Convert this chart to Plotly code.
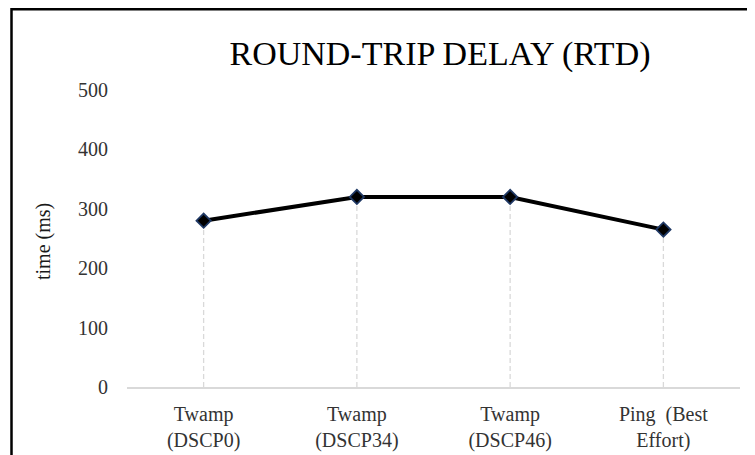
import plotly.graph_objects as go

categories = ["Twamp<br>(DSCP0)", "Twamp<br>(DSCP34)", "Twamp<br>(DSCP46)", "Ping  (Best<br>Effort)"]
rtd_ms = [280, 320, 320, 265]
y_ticks = [0, 100, 200, 300, 400, 500]

# the page body adds an 8px offset; layout values below compensate for it
W, H = 747, 447
L, R, T, B = 119, 15, 82, 68
pw, ph = W - L - R, H - T - B

fig = go.Figure()

# drop lines
for c, v in zip(categories, rtd_ms):
    fig.add_trace(go.Scatter(x=[c, c], y=[0, v], mode="lines",
                             line=dict(color="#d9d9d9", width=1.3, dash="5px,3px"),
                             hoverinfo="skip", showlegend=False))

fig.add_trace(go.Scatter(
    x=categories, y=rtd_ms, mode="lines+markers",
    line=dict(color="black", width=4),
    marker=dict(symbol="diamond", size=11, color="black",
                line=dict(color="#1f3864", width=1.8)),
    showlegend=False))

font = "Liberation Serif"
tick_col = "#333333"

fig.update_layout(
    width=W, height=H,
    margin=dict(l=L, r=R, t=T, b=B, autoexpand=False),
    paper_bgcolor="white", plot_bgcolor="white",
    font=dict(family=font, size=20, color=tick_col),
    title=dict(text="ROUND-TRIP DELAY (RTD)", x=432 / W, xanchor="center",
               y=1 - 45 / H, yanchor="middle",
               font=dict(family=font, size=34, color="black")),
    xaxis=dict(type="category", range=[-0.5, 3.5], showgrid=False, zeroline=False,
               showline=True, linecolor="#d9d9d9", linewidth=1.5, automargin=False,
               ticks="", ticklabelstandoff=8,
               tickfont=dict(family=font, size=20, color=tick_col)),
    yaxis=dict(range=[0, 500], tickvals=y_ticks, showgrid=False, zeroline=False,
               showline=False, ticks="", ticklabelstandoff=18, automargin=False,
               tickfont=dict(family=font, size=20, color=tick_col)),
)

fig.add_annotation(text="time (ms)", xref="paper", yref="paper",
                   x=(35 - L) / pw, y=(H - B - 234) / ph,
                   xanchor="center", yanchor="middle",
                   textangle=-90, showarrow=False,
                   font=dict(family=font, size=20, color="#1a1a1a"))

# outer frame
fig.add_shape(type="rect", xref="paper", yref="paper",
              x0=(3.5 - L) / pw, x1=(W + 20 - L) / pw,
              y0=(-(B + 20)) / ph, y1=(H - B - 1.3) / ph,
              line=dict(color="black", width=2.5), fillcolor="rgba(0,0,0,0)", layer="above")

fig.write_html("out.html")
